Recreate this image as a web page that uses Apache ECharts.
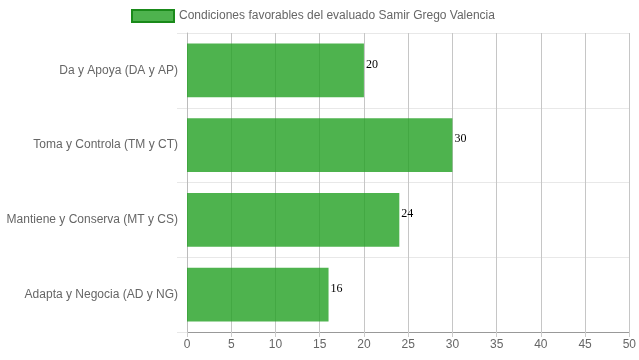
<!DOCTYPE html>
<html><head><meta charset="utf-8">
<script src="https://cdn.jsdelivr.net/npm/echarts@6/dist/echarts.min.js"></script>
<style>html,body{margin:0;padding:0;background:#fff}#c{width:639px;height:360px}</style>
</head><body><div id="c"></div>
<script>
const categories = ["Da y Apoya (DA y AP)", "Toma y Controla (TM y CT)", "Mantiene y Conserva (MT y CS)", "Adapta y Negocia (AD y NG)"];
const values = [20, 30, 24, 16];
const seriesName = "Condiciones favorables del evaluado Samir Grego Valencia";

const chart = echarts.init(document.getElementById('c'));
chart.setOption({
  animation: false,
  textStyle: { fontFamily: 'Liberation Sans, Arial, sans-serif' },
  legend: {
    top: 4, left: 126,
    icon: 'rect',
    itemWidth: 42, itemHeight: 12, itemGap: 6,
    textStyle: { color: '#666', fontSize: 12 },
    itemStyle: { borderColor: '#1a8a1a', borderWidth: 2 },
    data: [seriesName]
  },
  grid: { left: 187, right: 9, top: 33, bottom: 28, containLabel: false },
  xAxis: {
    type: 'value', min: 0, max: 50, interval: 5,
    axisLine: { show: true, lineStyle: { color: '#999' } },
    axisTick: { show: true, length: 5, lineStyle: { color: '#ccc' } },
    axisLabel: { color: '#666', fontSize: 12, margin: 7 },
    splitLine: { show: true, lineStyle: { color: '#c6c6c6' } }
  },
  yAxis: {
    type: 'category', inverse: true, data: categories,
    axisLine: { show: true, lineStyle: { color: '#bbb' } },
    axisTick: { show: true, length: 10, lineStyle: { color: '#e8e8e8' } },
    axisLabel: { color: '#666', fontSize: 12, margin: 9 },
    splitLine: { show: true, lineStyle: { color: '#e8e8e8' } }
  },
  series: [{
    name: seriesName, type: 'bar', data: values,
    barCategoryGap: '28%',
    itemStyle: { color: 'rgba(34,160,34,0.8)' },
    label: { show: true, position: 'right', distance: 2, offset: [0, -6], color: '#000', fontSize: 12,
      fontFamily: 'Liberation Serif, Times New Roman, serif' },
    z: 1
  }]
});
</script></body></html>
